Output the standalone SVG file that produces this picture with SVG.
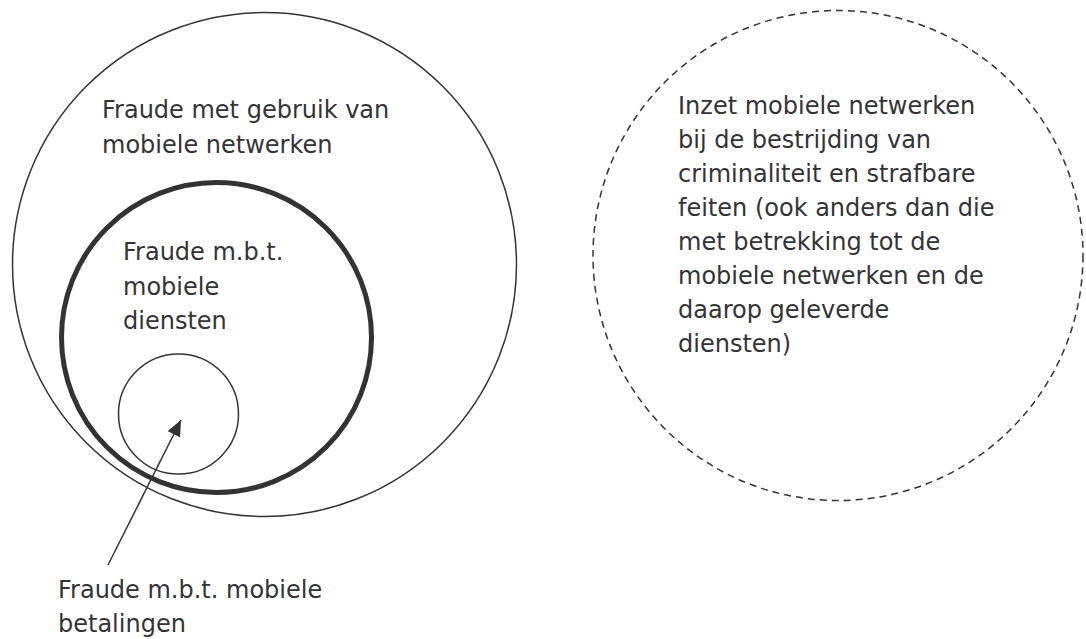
<svg xmlns="http://www.w3.org/2000/svg" width="1086" height="639" viewBox="0 0 1086 639">
<style>
text{font-family:"DejaVu Sans","Verdana",sans-serif;font-size:24px;fill:#333336}
.c{fill:none;stroke:#333336}
</style>
<defs>
<marker id="ah2" viewBox="0 0 16 14" refX="16" refY="7" markerWidth="16" markerHeight="14" markerUnits="userSpaceOnUse" orient="auto">
<path d="M0,0 L16,7 L0,14 z" fill="#333336"/>
</marker>
</defs>
<rect width="1086" height="639" fill="#fff"/>
<g id="outer">
<circle class="c" cx="264.5" cy="264.5" r="252" stroke-width="1.5"/>
<text x="102" y="118">Fraude met gebruik van</text>
<text x="102" y="153">mobiele netwerken</text>
</g>
<g id="diensten">
<circle class="c" cx="216.5" cy="337.5" r="155" stroke-width="5"/>
<text x="123" y="260">Fraude m.b.t.</text>
<text x="123" y="295">mobiele</text>
<text x="123" y="329">diensten</text>
</g>
<g id="betalingen">
<circle class="c" cx="178.5" cy="414" r="60" stroke-width="1.5"/>
</g>
<g id="inzet">
<circle class="c" cx="838" cy="255.5" r="245" stroke-width="1.5" stroke-dasharray="7 5"/>
<text x="678" y="114">Inzet mobiele netwerken</text>
<text x="678" y="148">bij de bestrijding van</text>
<text x="678" y="182">criminaliteit en strafbare</text>
<text x="678" y="216">feiten (ook anders dan die</text>
<text x="678" y="250">met betrekking tot de</text>
<text x="678" y="284">mobiele netwerken en de</text>
<text x="678" y="318">daarop geleverde</text>
<text x="678" y="352">diensten)</text>
</g>
<g id="label-betalingen">
<text x="58" y="598">Fraude m.b.t. mobiele</text>
<text x="58" y="632">betalingen</text>
</g>
<g id="connectors">
<line x1="108" y1="565" x2="181" y2="420" stroke="#333336" stroke-width="1.5" marker-end="url(#ah2)"/>
</g>
</svg>
